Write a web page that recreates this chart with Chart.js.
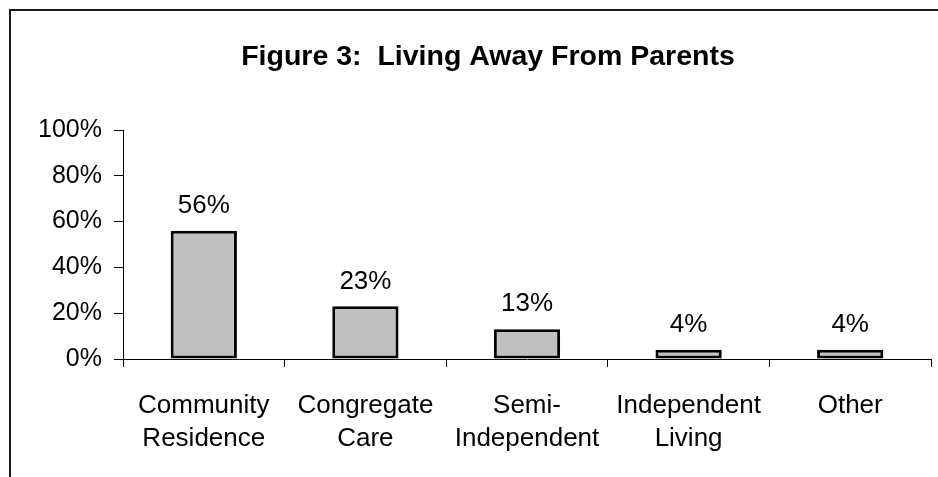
<!DOCTYPE html>
<html>
<head>
<meta charset="utf-8">
<script src="https://cdn.jsdelivr.net/npm/chart.js@4"></script>
<style>
  html, body { margin: 0; padding: 0; background: #fff; overflow: hidden; }
  #frame { position: absolute; left: 9px; top: 9px; width: 2000px; height: 2000px;
           border-left: 2px solid #1a1a1a; border-top: 2px solid #1a1a1a; }
  #c { position: absolute; left: 0; top: 0; }
</style>
</head>
<body>
<div id="frame"></div>
<canvas id="c" width="938" height="477"></canvas>
<script>
const titleText = 'Figure 3:  Living Away From Parents';
const categories = [['Community', 'Residence'], ['Congregate', 'Care'], ['Semi-', 'Independent'], ['Independent', 'Living'], ['Other']];
const values = [56, 23, 13, 4, 4];
const yMin = 0, yMax = 100, yStep = 20;

const FONT = "'Liberation Sans', Arial, sans-serif";

const titlePlugin = {
  id: 'titleText',
  afterDraw(chart) {
    const ctx = chart.ctx;
    ctx.save();
    ctx.font = 'bold 28.5px ' + FONT;
    ctx.fillStyle = '#000';
    ctx.textAlign = 'center';
    ctx.textBaseline = 'middle';
    ctx.fillText(titleText, 488, 57);
    ctx.restore();
  }
};

const dataLabels = {
  id: 'dataLabels',
  afterDatasetsDraw(chart) {
    const ctx = chart.ctx;
    const meta = chart.getDatasetMeta(0);
    ctx.save();
    ctx.font = '26px ' + FONT;
    ctx.fillStyle = '#000';
    ctx.textAlign = 'center';
    ctx.textBaseline = 'middle';
    meta.data.forEach((bar, i) => {
      ctx.fillText(values[i] + '%', bar.x, bar.y - 25);
    });
    ctx.restore();
  }
};

new Chart(document.getElementById('c'), {
  type: 'bar',
  data: {
    labels: categories,
    datasets: [{
      data: values,
      backgroundColor: '#c0c0c0',
      borderColor: '#000',
      borderWidth: 3,
      borderSkipped: false,
      barPercentage: 0.41,
      categoryPercentage: 1.0
    }]
  },
  options: {
    responsive: false,
    animation: false,
    devicePixelRatio: 1,
    layout: { padding: { left: 35, right: 7, top: 130, bottom: 0 } },
    plugins: {
      legend: { display: false },
      tooltip: { enabled: false },
      title: { display: false }
    },
    scales: {
      x: {
        grid: { display: true, drawOnChartArea: false, drawTicks: true, tickLength: 8, color: '#000', lineWidth: 1, offset: true },
        border: { display: true, color: '#000', width: 1 },
        ticks: { color: '#000', font: { family: FONT, size: 26, lineHeight: 1.25 }, padding: 22.75, maxRotation: 0, autoSkip: false },
        afterFit(scale) { scale.height = 118; }
      },
      y: {
        min: yMin, max: yMax,
        grid: { display: true, drawOnChartArea: false, drawTicks: true, tickLength: 9, color: '#000', lineWidth: 1 },
        border: { display: true, color: '#000', width: 1 },
        ticks: { stepSize: yStep, color: '#000', font: { family: FONT, size: 25 }, padding: 12,
                 callback: v => v + '%' },
        afterFit(scale) { scale.width = 88; }
      }
    }
  },
  plugins: [dataLabels, titlePlugin]
});
</script>
</body>
</html>
